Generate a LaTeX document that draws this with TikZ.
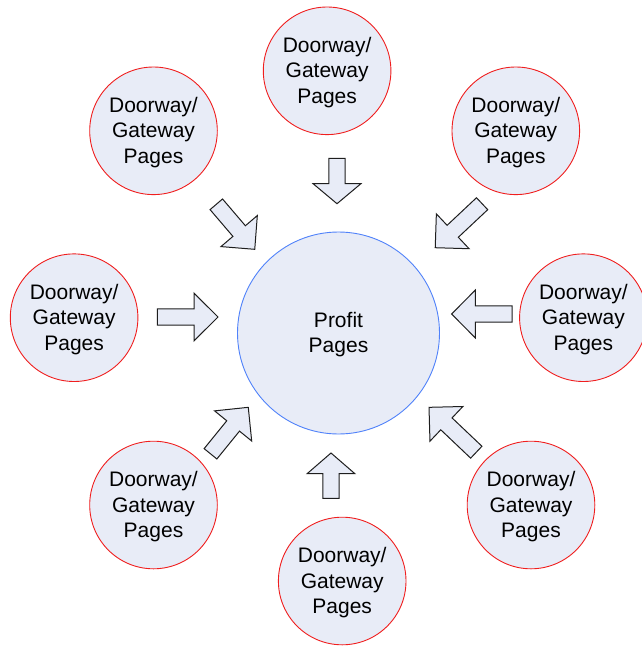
\documentclass[tikz,border=0pt]{standalone}
\usepackage{fontspec}
\setmainfont{Liberation Sans}
\definecolor{pagefill}{RGB}{232,236,247}
\definecolor{ringred}{RGB}{240,30,30}
\definecolor{ringblue}{RGB}{80,130,250}
\definecolor{arrowline}{RGB}{30,30,30}
\tikzset{
  doorway/.style={circle, draw=ringred, fill=pagefill, line width=0.9pt,
    minimum size=127.6pt, inner sep=0pt, align=center, text depth=1pt,
    font=\fontsize{21}{25.3}\selectfont},
  profit/.style={circle, draw=ringblue, fill=pagefill, line width=0.9pt,
    minimum size=202pt, inner sep=0pt, align=center, text depth=1pt,
    font=\fontsize{21}{24.5}\selectfont},
  blockarrow/.style={draw=arrowline, fill=pagefill, line width=1pt, line join=miter}
}
% block arrow: base point, direction (deg), total length, head length
\newcommand\doorarrow[5]{%
  \draw[blockarrow, shift={(#1,#2)}, rotate=#3]
    (0,-8.2) -- (#4-#5,-8.2) -- (#4-#5,-23.9) -- (#4,0)
    -- (#4-#5,23.9) -- (#4-#5,8.2) -- (0,8.2) -- cycle;}
\begin{document}
\begin{tikzpicture}[x=1pt, y=-1pt]
  \useasboundingbox (0,0) rectangle (642,648);

  \node[profit] (profit) at (338.5,333) {Profit\\Pages};

  \node[doorway] (dtop)   at (327.1,70.8)  {Doorway/\\Gateway\\Pages};
  \node[doorway] (dtl)    at (153.5,130.8) {Doorway/\\Gateway\\Pages};
  \node[doorway] (dtr)    at (515.8,130.8) {Doorway/\\Gateway\\Pages};
  \node[doorway] (dleft)  at (74.1,317.7)  {Doorway/\\Gateway\\Pages};
  \node[doorway] (dright) at (583.4,317.7) {Doorway/\\Gateway\\Pages};
  \node[doorway] (dbl)    at (153.5,505)   {Doorway/\\Gateway\\Pages};
  \node[doorway] (dbr)    at (531,505)     {Doorway/\\Gateway\\Pages};
  \node[doorway] (dbot)   at (342.2,581)   {Doorway/\\Gateway\\Pages};

  % arrows pointing in towards the profit pages
  \doorarrow{337}{158.3}{-90}{45.4}{20}
  \doorarrow{331}{498.3}{90}{45.3}{20.7}
  \doorarrow{157.3}{317}{0}{60.7}{24}
  \doorarrow{512.1}{314}{180}{60.5}{23.7}
  \doorarrow{216.3}{204.3}{-49.5}{59.2}{24}
  \doorarrow{482.1}{203.7}{-136.8}{64.3}{24}
  \doorarrow{210.5}{453.8}{50.9}{59.9}{24}
  \doorarrow{476.3}{452.2}{136.5}{65.2}{24}
\end{tikzpicture}
\end{document}
